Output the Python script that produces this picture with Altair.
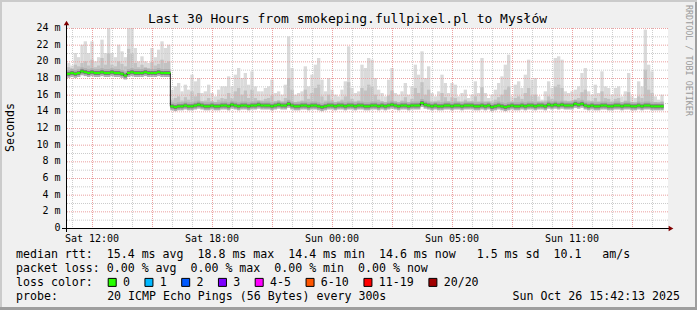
import altair as alt
import pandas as pd

# ---------------- data (one value per 10-minute step) ----------------
STEP_H = 1.0 / 6.0  # 10 minutes in hours

median_ms = [
    18.5, 18.6, 18.5, 18.6, 18.8, 18.7, 18.6, 18.7, 18.6, 18.6,
    18.7, 18.6, 18.6, 18.7, 18.6, 18.6, 18.5, 18.3, 18.6, 18.7,
    18.6, 18.6, 18.6, 18.7, 18.6, 18.6, 18.6, 18.7, 18.6, 18.6,
    18.6, 14.6, 14.5, 14.6, 14.6, 14.7, 14.6, 14.6, 14.7, 14.8,
    14.7, 14.6, 14.6, 14.7, 14.6, 14.6, 14.7, 14.7, 14.6, 14.8,
    14.7, 14.6, 14.7, 14.7, 14.6, 14.7, 14.7, 14.8, 14.7, 14.7,
    14.7, 14.6, 14.7, 14.8, 14.7, 14.7, 14.9, 14.7, 14.6, 14.6,
    14.7, 14.7, 14.6, 14.7, 14.7, 14.6, 14.5, 14.6, 14.7, 14.7,
    14.6, 14.7, 14.7, 14.6, 14.7, 14.7, 14.6, 14.7, 14.7, 14.6,
    14.6, 14.7, 14.7, 14.6, 14.7, 14.6, 14.7, 14.8, 14.7, 14.6,
    14.7, 14.7, 14.6, 14.7, 14.7, 14.7, 15.0, 14.8, 14.7, 14.6,
    14.7, 14.6, 14.6, 14.7, 14.7, 14.6, 14.7, 14.7, 14.6, 14.7,
    14.7, 14.7, 14.6, 14.6, 14.7, 14.6, 14.7, 14.5, 14.6, 14.7,
    14.6, 14.5, 14.6, 14.7, 14.6, 14.6, 14.7, 14.6, 14.7, 14.7,
    14.6, 14.7, 14.7, 14.6, 14.8, 14.7, 14.8, 14.7, 14.8, 14.7,
    14.7, 14.7, 14.9, 14.8, 14.9, 14.7, 14.6, 14.7, 14.6, 14.6,
    14.7, 14.7, 14.6, 14.6, 14.7, 14.7, 14.6, 14.7, 14.7, 14.6,
    14.6, 14.7, 14.6, 14.7, 14.7, 14.6, 14.6, 14.6, 14.6,
]

smoke_mid_ms = [
    19.3, 19.2, 19.6, 19.4, 19.8, 20.0, 19.5, 20.2, 19.3, 19.5,
    20.4, 19.6, 21.0, 19.6, 19.4, 20.0, 19.7, 19.4, 21.5, 21.0,
    19.8, 19.3, 19.6, 19.3, 19.2, 19.9, 19.5, 19.7, 20.2, 19.8,
    20.0, 15.4, 15.6, 15.8, 15.3, 15.7, 15.4, 16.4, 15.8, 16.2,
    15.2, 15.3, 15.6, 15.2, 15.1, 15.4, 15.6, 15.5, 16.2, 15.6,
    16.4, 16.8, 16.0, 16.5, 15.6, 16.6, 15.6, 15.3, 15.3, 15.5,
    15.6, 15.9, 15.2, 15.3, 15.1, 15.6, 18.0, 16.6, 15.1, 15.2,
    15.3, 16.6, 15.5, 16.2, 16.8, 17.2, 15.8, 15.3, 16.0, 15.4,
    15.1, 15.1, 15.4, 15.8, 17.5, 15.5, 15.2, 15.3, 16.8, 16.5,
    17.2, 17.0, 16.0, 15.4, 15.2, 15.1, 15.9, 16.5, 15.2, 15.1,
    15.3, 15.7, 15.1, 15.5, 16.8, 16.2, 17.5, 16.0, 16.6, 15.2,
    15.1, 15.3, 16.2, 15.7, 15.2, 15.7, 15.6, 15.1, 15.2, 15.4,
    15.1, 15.2, 15.8, 15.2, 16.9, 15.2, 15.1, 15.2, 15.4, 15.7,
    16.0, 16.6, 17.0, 15.1, 15.6, 15.8, 15.5, 16.2, 16.8, 15.9,
    16.0, 15.1, 15.0, 15.3, 15.8, 15.5, 17.0, 17.2, 16.8, 15.3,
    15.2, 15.3, 15.4, 15.6, 16.3, 16.6, 15.3, 15.2, 15.6, 15.2,
    16.4, 15.6, 15.5, 15.2, 15.5, 15.6, 15.1, 15.3, 16.3, 15.1,
    15.0, 15.8, 15.6, 19.0, 16.6, 16.2, 15.1, 15.0, 15.2,
]

smoke_max_ms = [
    19.8, 19.5, 21.0, 20.5, 22.0, 22.4, 21.0, 22.4, 20.0, 20.5,
    22.6, 21.0, 24.0, 21.0, 20.5, 22.0, 21.2, 20.5, 24.0, 24.0,
    21.6, 20.0, 20.6, 20.0, 19.8, 21.6, 20.5, 21.4, 22.4, 21.6,
    22.0, 16.6, 17.0, 17.4, 16.4, 17.2, 16.6, 18.4, 17.6, 18.0,
    16.2, 16.4, 17.2, 16.2, 15.8, 16.6, 17.0, 17.0, 18.2, 17.0,
    18.4, 19.2, 18.0, 18.6, 17.2, 18.8, 17.0, 16.4, 16.4, 16.8,
    17.0, 17.8, 16.2, 16.4, 16.0, 17.2, 23.0, 19.2, 16.0, 16.2,
    16.4, 19.4, 17.0, 18.4, 19.6, 20.4, 17.8, 16.4, 18.0, 16.6,
    16.0, 15.8, 16.6, 17.6, 21.8, 16.8, 16.2, 16.4, 19.6, 19.2,
    20.4, 20.2, 18.0, 16.6, 16.2, 15.8, 17.8, 19.2, 16.2, 16.0,
    16.4, 17.4, 16.0, 17.0, 19.6, 18.4, 21.2, 18.0, 19.4, 16.2,
    15.8, 16.4, 18.4, 17.4, 16.2, 17.4, 17.2, 15.8, 16.2, 16.6,
    15.6, 16.0, 17.6, 16.2, 20.4, 16.2, 15.6, 16.0, 16.6, 17.4,
    18.2, 19.6, 20.8, 15.8, 17.2, 17.6, 16.8, 18.4, 20.2, 17.8,
    18.0, 15.8, 15.4, 16.4, 17.6, 16.8, 20.4, 20.6, 20.2, 16.4,
    16.2, 16.4, 16.6, 17.0, 18.6, 19.2, 16.4, 16.0, 17.2, 16.2,
    18.8, 17.0, 16.8, 16.0, 16.8, 17.0, 15.8, 16.4, 18.6, 15.8,
    15.6, 17.6, 17.0, 23.8, 19.6, 18.8, 15.8, 15.4, 16.0,
]

# axis ticks (hours from the left edge of the graph)
x_tick_hours = [1.25, 7.25, 13.25, 19.25, 25.25]
x_tick_names = ["Sat 12:00", "Sat 18:00", "Sun 00:00", "Sun 05:00", "Sun 11:00"]
x_major_grid = [1.25, 4.25, 7.25, 10.25, 13.25, 16.25, 19.25, 22.25, 25.25, 28.25]
x_minor_grid = [0.25 + k for k in range(30)]
y_ticks = [0, 2, 4, 6, 8, 10, 12, 14, 16, 18, 20, 22, 24]
y_tick_names = ["0", "2 m", "4 m", "6 m", "8 m", "10 m", "12 m", "14 m", "16 m", "18 m", "20 m", "22 m", "24 m"]
y_minor_grid = [1, 3, 5, 7, 9, 11, 13, 15, 17, 19, 21, 23]
y_title = "Seconds"

title_text = "Last 30 Hours from smokeping.fullpixel.pl to Mysłów"
legend_rtt = ["median rtt:", "15.4 ms avg", "18.8 ms max", "14.4 ms min", "14.6 ms now", "1.5 ms sd", "10.1", "am/s"]
legend_loss = ["packet loss:", "0.00 % avg", "0.00 % max", "0.00 % min", "0.00 % now"]
loss_labels = ["0", "1", "2", "3", "4-5", "6-10", "11-19", "20/20"]
loss_colors = ["#26ff00", "#00b8ff", "#0059ff", "#7e00ff", "#ff00ff", "#ff5500", "#ff0000", "#a10000"]
probe_text = "20 ICMP Echo Pings (56 Bytes) every 300s"
stamp_text = "Sun Oct 26 15:42:13 2025"
side_text = "RRDTOOL / TOBI OETIKER"

# ---------------- build ----------------
n = len(smoke_max_ms)
df = pd.DataFrame({
    "t0": [i * STEP_H for i in range(n)],
    "t1": [(i + 1) * STEP_H for i in range(n)],
    "tc": [(i + 0.5) * STEP_H for i in range(n)],
    "median": median_ms[:n],
    "mid": smoke_mid_ms[:n],
    "max": smoke_max_ms[:n],
})

MONO = "DejaVu Sans Mono"
OX, OY = 67, 28  # plot origin in page pixels
W, H = 601, 200

xs = alt.Scale(domain=[0, 30.05], nice=False, zero=False)
ys = alt.Scale(domain=[0, 24], nice=False, zero=True)


def X(f):
    return alt.X(f, scale=xs, axis=None)


def Y(f):
    return alt.Y(f, scale=ys, axis=None)


base = alt.Chart(df)

smoke_light = base.mark_rect(color="#dadada", opacity=1).encode(
    x=X("t0:Q"), x2="t1", y=Y("median:Q"), y2="max")
smoke_mid = base.mark_rect(color="#c2c2c2", opacity=1).encode(
    x=X("t0:Q"), x2="t1", y=Y("median:Q"), y2="mid")


def grid_rule(vals, vertical, color):
    d = pd.DataFrame({"g": vals})
    if vertical:
        return alt.Chart(d).mark_rule(color=color, strokeDash=[1, 1], strokeWidth=1, xOffset=0.5).encode(
            x=X("g:Q"))
    return alt.Chart(d).mark_rule(color=color, strokeDash=[1, 1], strokeWidth=1, yOffset=0.5).encode(
        y=Y("g:Q"))


MINOR = "#cccccc"
MAJOR = "#eaa0a0"
grids = [
    grid_rule(x_minor_grid, True, MINOR),
    grid_rule(y_minor_grid, False, MINOR),
    grid_rule(x_major_grid, True, MAJOR),
    grid_rule(y_ticks[1:], False, MAJOR),
]

band_outer = base.mark_tick(color="#b0b0b0", thickness=8, size=3.5, orient="horizontal", opacity=1).encode(
    x=X("tc:Q"), y=Y("median:Q"))
band_inner = base.mark_tick(color="#7a7a7a", thickness=4, size=3.5, orient="horizontal", opacity=1).encode(
    x=X("tc:Q"), y=Y("median:Q"))
median_black = base.mark_line(color="#202020", strokeWidth=1, interpolate="step").encode(
    x=X("tc:Q"), y=Y("median:Q"))
median_green = base.mark_tick(color="#26ff00", thickness=2, size=3.5, orient="horizontal", opacity=1).encode(
    x=X("tc:Q"), y=Y("median:Q"))

one = pd.DataFrame({"k": [0]})


def px(x):
    return x - OX


def py(y):
    return y - OY


# axis tick labels (placed through the scales)
x_labels = alt.Chart(pd.DataFrame({"h": x_tick_hours, "lab": x_tick_names})).mark_text(
    font=MONO, fontSize=10, align="center", baseline="alphabetic", color="#000000").encode(
    x=X("h:Q"), y=alt.value(py(241.8)), text="lab:N")
y_labels = alt.Chart(pd.DataFrame({"v": y_ticks, "lab": y_tick_names})).mark_text(
    font=MONO, fontSize=10, align="right", baseline="middle", color="#000000").encode(
    x=alt.value(px(60.5)), y=Y("v:Q"), text="lab:N")

# axes lines and arrows
axis_lines = [
    alt.Chart(one).mark_rule(color="#000000", strokeWidth=1).encode(
        x=alt.value(px(62)), x2=alt.value(px(671)), y=alt.value(py(228.5))),
    alt.Chart(one).mark_rule(color="#000000", strokeWidth=1).encode(
        x=alt.value(px(66.5)), y=alt.value(py(24)), y2=alt.value(py(232))),
    alt.Chart(one).mark_point(shape="triangle-right", filled=True, color="#800000", size=30, opacity=1).encode(
        x=alt.value(px(671)), y=alt.value(py(228.5))),
    alt.Chart(one).mark_point(shape="triangle-up", filled=True, color="#800000", size=30, opacity=1).encode(
        x=alt.value(px(66.5)), y=alt.value(py(23))),
]


def text_layer(s, x, y, size=11.6, align="left", color="#000000", angle=0, baseline="alphabetic"):
    d = pd.DataFrame({"s": [s.replace(" ", "\u00a0")]})
    kw = dict(font=MONO, fontSize=size, align=align, baseline=baseline, color=color)
    if angle:
        kw["angle"] = angle
    return alt.Chart(d).mark_text(**kw).encode(
        x=alt.value(px(x)), y=alt.value(py(y)), text="s:N")


CW = 7.01  # character advance of the legend font
LX = 16


def joined(parts, gaps):
    out = parts[0]
    for p, g in zip(parts[1:], gaps):
        out += " " * g + p
    return out


line1 = joined(legend_rtt, [2, 2, 2, 2, 3, 2, 3])
line2 = joined(legend_loss, [1, 2, 2, 2])

texts = [
    text_layer(title_text, 347.5, 23.3, size=13, align="center"),
    text_layer(y_title, 11, 127.5, size=11.6, align="center", angle=270, baseline="middle"),
    text_layer(line1, LX, 258.3),
    text_layer(line2, LX, 272.3),
    text_layer("loss color:", LX, 286.3),
    text_layer("probe:", LX, 300.3),
    text_layer(probe_text, LX + 13 * CW, 300.3),
    text_layer(stamp_text, 680, 300.3, align="right"),
    text_layer(side_text, 689, 5, size=8.4, color="#9a9a9a", angle=90, baseline="middle"),
]

# loss colour legend
boxes = []
left = 108.0
for lab, col in zip(loss_labels, loss_colors):
    boxes.append(alt.Chart(one).mark_square(size=64, fill=col, stroke="#000000", strokeWidth=1, opacity=1).encode(
        x=alt.value(px(left + 4.2)), y=alt.value(py(282.4))))
    boxes.append(text_layer(lab, left + 15, 286.3))
    left += 7.05 * len(lab) + 29.7

# frame shading
frame = [
    alt.Chart(one).mark_rect(color="#9e9e9e").encode(
        x=alt.value(px(0)), x2=alt.value(px(697)), y=alt.value(py(307)), y2=alt.value(py(310))),
    alt.Chart(one).mark_rect(color="#9e9e9e").encode(
        x=alt.value(px(695)), x2=alt.value(px(697)), y=alt.value(py(0)), y2=alt.value(py(310))),
    alt.Chart(one).mark_rect(color="#cbcbcb").encode(
        x=alt.value(px(0)), x2=alt.value(px(697)), y=alt.value(py(0)), y2=alt.value(py(2))),
    alt.Chart(one).mark_rect(color="#cbcbcb").encode(
        x=alt.value(px(0)), x2=alt.value(px(2)), y=alt.value(py(0)), y2=alt.value(py(307))),
]

layers = [smoke_light, smoke_mid] + grids + [band_outer, band_inner, median_black, median_green] \
    + axis_lines + [x_labels, y_labels] + texts + boxes + frame

chart = alt.layer(*layers).properties(
    width=W, height=H,
    background="#f0f0f0",
    autosize=alt.AutoSizeParams(type="none"),
    padding={"left": OX, "top": OY, "right": 697 - OX - W, "bottom": 310 - OY - H},
).configure_view(fill="#ffffff", stroke=None)

chart.save("out.html", embed_options={"renderer": "svg", "actions": False})
